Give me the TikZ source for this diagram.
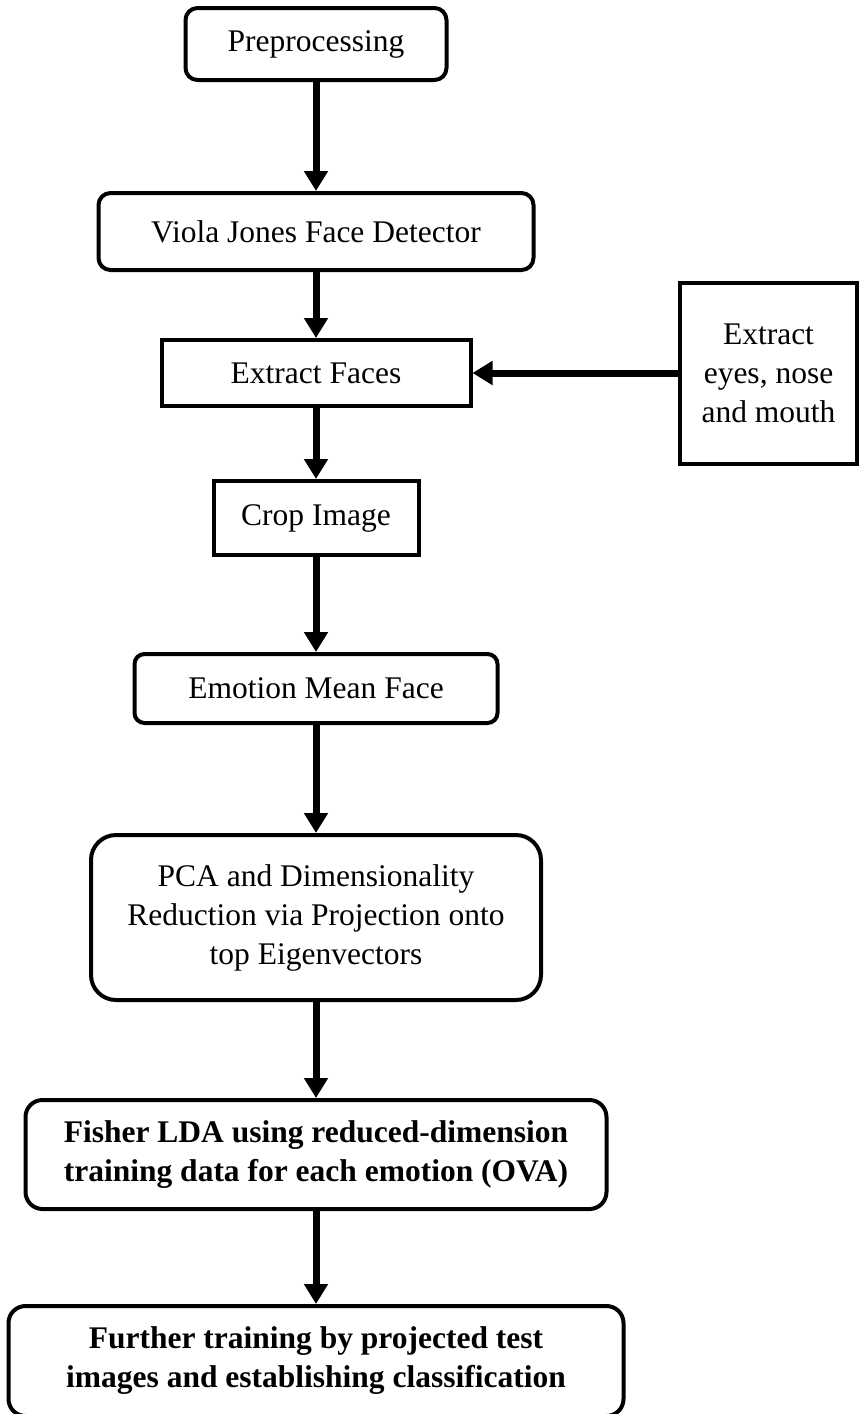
\documentclass[tikz,border=0pt]{standalone}
\usepackage{fontspec}
\setmainfont{Liberation Serif}
\usetikzlibrary{arrows.meta,positioning}

\begin{document}
\begin{tikzpicture}
            [x=1pt,y=-1pt,
             box/.style ={draw,line width=4pt,align=center,font=\fontsize{31.5}{39}\selectfont},
             rbox/.style ={box,rounded corners=#1},
             rbox/.default=12pt,
             bbox/.style ={rbox=17pt,font=\fontsize{31.5}{39}\selectfont\bfseries},
             arr/.style ={line width=7pt,-{Triangle[width=23pt,length=20pt]}}]
            \useasboundingbox (0,0) rectangle (861,1414);
            \node[rbox,minimum width=261pt,minimum height=72pt] (pre) at (316,44){Preprocessing};
            \node[rbox,minimum width=435pt,minimum height=77pt] (viola)[below of = pre,node distance=187.5pt]{Viola Jones Face Detector};
            \node[box,minimum width=309pt,minimum height=66pt] (faces)[below of = viola,node distance=141.5pt]{Extract Faces};
            \node[box,minimum width=205pt,minimum height=74pt] (crop)[below of = faces,node distance=145pt]{Crop Image};
            \node[rbox=10pt,minimum width=363pt,minimum height=69pt] (mean)[below of = crop,node distance=170.5pt]{Emotion Mean Face};
            \node[rbox=25pt,minimum width=450pt,minimum height=165pt] (pca)[below of = mean,node distance=229pt]{PCA and Dimensionality\\Reduction via Projection onto\\top Eigenvectors};
            \node[bbox,minimum width=581pt,minimum height=109pt] (fisher)[below of = pca,node distance=237pt]{Fisher LDA using reduced-dimension\\training data for each emotion (OVA)};
            \node[bbox,minimum width=615pt,minimum height=110pt] (further)[below of = fisher,node distance=206.5pt]{Further training by projected test\\images and establishing classification};
            \node[box,minimum width=177pt,minimum height=181pt] (eyes)[right of = faces,node distance=452.5pt]{Extract\\eyes, nose\\and mouth};
            \draw[arr] (pre) to (viola);
            \draw[arr] (viola) to (faces);
            \draw[arr] (faces) to (crop);
            \draw[arr] (crop) to (mean);
            \draw[arr] (mean) to (pca);
            \draw[arr] (pca) to (fisher);
            \draw[arr] (fisher) to (further);
            \draw[arr] (eyes) to (faces);
        \end{tikzpicture}
\end{document}
